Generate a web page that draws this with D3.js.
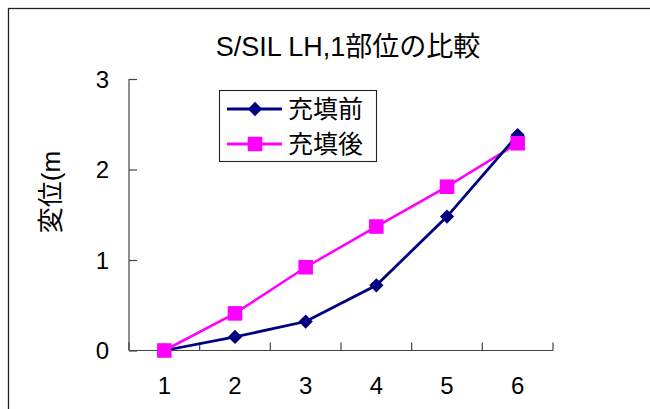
<!DOCTYPE html>
<html>
<head>
<meta charset="utf-8">
<script src="https://cdn.jsdelivr.net/npm/d3@7"></script>
<style>
  html, body { margin: 0; padding: 0; background: #fff; }
  svg { display: block; }
  text { font-family: "Liberation Sans", Arial, "Noto Sans CJK JP", sans-serif; fill: #000; }
</style>
</head>
<body>
<script>
// Category labels along the x axis
const categories = ["1", "2", "3", "4", "5", "6"];
// Displacement before filling (充填前)
const beforeValues = [0, 0.15, 0.32, 0.72, 1.48, 2.38];
// Displacement after filling (充填後)
const afterValues = [0, 0.41, 0.92, 1.37, 1.81, 2.29];
// Y axis tick values
const yTicks = [0, 1, 2, 3];
const seriesNames = ["充填前", "充填後"];
const titleText = "S/SIL LH,1部位の比較";
const yLabelText = "変位(m";

const W = 650, H = 409;
const svg = d3.select("body").append("svg").attr("width", W).attr("height", H);

// Chart frame (extends past the right and bottom edges)
svg.append("rect")
  .attr("x", 8.5).attr("y", 8.5)
  .attr("width", W + 20).attr("height", H + 20)
  .attr("fill", "none").attr("stroke", "#222").attr("stroke-width", 1.3);

const x = d3.scaleBand().domain(categories).range([129, 553]);
const y = d3.scaleLinear().domain([0, 3]).range([350.5, 79]);
const cx = d => x(d) + x.bandwidth() / 2;

// Title
svg.append("text")
  .attr("x", 348).attr("y", 56)
  .attr("text-anchor", "middle")
  .style("font-size", "27px")
  .text(titleText);

// Y axis title
svg.append("text")
  .attr("transform", "translate(51,192) rotate(-90)")
  .attr("text-anchor", "middle")
  .attr("dominant-baseline", "central")
  .style("font-size", "26px")
  .text(yLabelText);

// Y axis with inward ticks
const yAxis = svg.append("g")
  .attr("transform", "translate(129,0)")
  .call(d3.axisRight(y).tickValues(yTicks).tickSize(8).tickFormat(() => ""));
yAxis.select(".domain").attr("stroke", "#444").attr("stroke-width", 1.2).attr("d", `M0,${y(3)}V${y(0)}`);
yAxis.selectAll(".tick line").attr("stroke", "#444").attr("stroke-width", 1.2);

svg.append("g").selectAll("text").data(yTicks).join("text")
  .attr("x", 109).attr("y", d => y(d))
  .attr("text-anchor", "end")
  .attr("dominant-baseline", "central")
  .style("font-size", "24px")
  .text(d => d);

// X axis: ticks at category boundaries, pointing up into the plot
const xAxisG = svg.append("g").attr("transform", `translate(0,${y(0)})`);
xAxisG.append("path")
  .attr("d", `M${x.range()[0]},0H${x.range()[1]}`)
  .attr("stroke", "#444").attr("stroke-width", 1.2).attr("fill", "none");
const boundaries = categories.map(c => x(c)).concat([x.range()[1]]);
xAxisG.selectAll("line.tk").data(boundaries).join("line")
  .attr("class", "tk")
  .attr("x1", d => d).attr("x2", d => d)
  .attr("y1", 0).attr("y2", -8)
  .attr("stroke", "#444").attr("stroke-width", 1.2);

svg.append("g").selectAll("text").data(categories).join("text")
  .attr("x", d => cx(d)).attr("y", 385)
  .attr("text-anchor", "middle")
  .attr("dominant-baseline", "central")
  .style("font-size", "24px")
  .text(d => d);

const line = d3.line().x((d, i) => cx(categories[i])).y(d => y(d));

const NAVY = "#000080", MAG = "#FF00FF";
const diamond = d3.symbol().type(d3.symbolDiamond2).size(130);
const square = d3.symbol().type(d3.symbolSquare2).size(270);

// 充填後 series
svg.append("path").datum(afterValues)
  .attr("d", line).attr("fill", "none")
  .attr("stroke", MAG).attr("stroke-width", 2.6);
// 充填前 series
svg.append("path").datum(beforeValues)
  .attr("d", line).attr("fill", "none")
  .attr("stroke", NAVY).attr("stroke-width", 2.8);

svg.append("g").selectAll("path").data(beforeValues).join("path")
  .attr("transform", (d, i) => `translate(${cx(categories[i])},${y(d)})`)
  .attr("d", diamond).attr("fill", NAVY);

svg.append("g").selectAll("path").data(afterValues).join("path")
  .attr("transform", (d, i) => `translate(${cx(categories[i])},${y(d)})`)
  .attr("d", square).attr("fill", MAG);

// Legend
const lg = svg.append("g");
lg.append("rect")
  .attr("x", 219.5).attr("y", 90.5).attr("width", 157).attr("height", 71)
  .attr("fill", "#fff").attr("stroke", "#222").attr("stroke-width", 1.1);
const rows = [
  { name: seriesNames[0], color: NAVY, sym: diamond, y: 109 },
  { name: seriesNames[1], color: MAG, sym: square, y: 144 }
];
rows.forEach(r => {
  lg.append("line")
    .attr("x1", 227).attr("x2", 282).attr("y1", r.y).attr("y2", r.y)
    .attr("stroke", r.color).attr("stroke-width", 2.8);
  lg.append("path")
    .attr("transform", `translate(255,${r.y})`)
    .attr("d", r.sym).attr("fill", r.color);
  lg.append("text")
    .attr("x", 288).attr("y", r.y)
    .attr("dominant-baseline", "central")
    .style("font-size", "25px")
    .text(r.name);
});
</script>
</body>
</html>
